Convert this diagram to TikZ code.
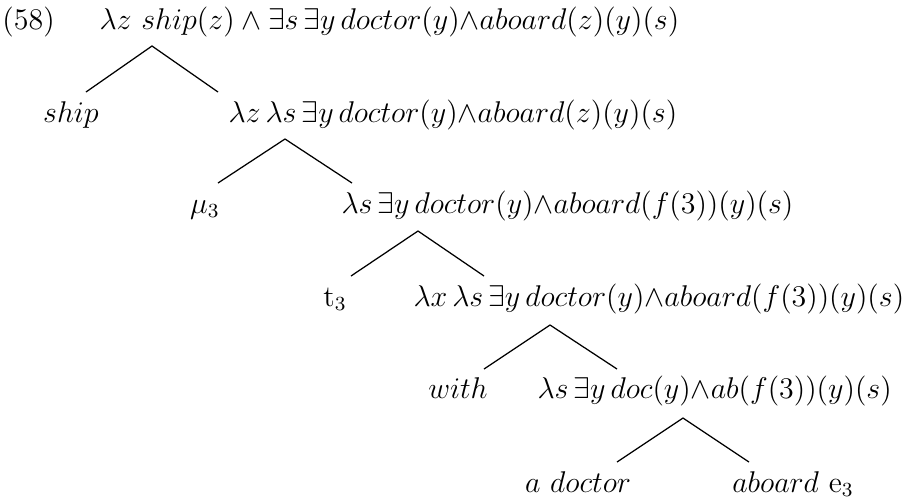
\documentclass[tikz,border=0pt]{standalone}
\usepackage{amsmath, amssymb}
\usepackage{tikz}
\usetikzlibrary{positioning}

\begin{document}
\begin{tikzpicture}[
        x=0.4pt, y=-0.4pt,
        every node/.style={font=\fontsize{12}{14.5}\selectfont},
        lbl/.style={inner sep=0pt, anchor=base west},
        leaf/.style={inner sep=0pt, anchor=base},
        branch/.style={line width=0.5pt}
    ]
    \useasboundingbox (0,0) rectangle (905,502);

    % Root
    \node[lbl] (num) at (2,29) {(58)};
    \node[lbl] (n0) at (99,29) {$\lambda z\ ship(z) \wedge \exists s\,\exists y\, doctor(y){\wedge}aboard(z)(y)(s)$};
    \coordinate (a0) at (152,46);
    \coordinate (l0) at (86,92);
    \coordinate (r0) at (218,92);
    \draw[branch] (l0) -- (a0) -- (r0);

    % Level 1
    \node[leaf] (ship) at (71,122) {$ship$};
    \node[lbl] (n1) at (228,122) {$\lambda z\,\lambda s\,\exists y\, doctor(y){\wedge}aboard(z)(y)(s)$};
    \coordinate (a1) at (285,139);
    \coordinate (l1) at (218,183);
    \coordinate (r1) at (352,183);
    \draw[branch] (l1) -- (a1) -- (r1);

    % Level 2
    \node[leaf] (mu) at (205,213) {$\mu_3$};
    \node[lbl] (n2) at (341,213) {$\lambda s\,\exists y\, doctor(y){\wedge}aboard(f(3))(y)(s)$};
    \coordinate (a2) at (418,231);
    \coordinate (l2) at (351,276);
    \coordinate (r2) at (484,276);
    \draw[branch] (l2) -- (a2) -- (r2);

    % Level 3
    \node[leaf] (trace) at (335,306) {$\mathrm{t}_3$};
    \node[lbl] (n3) at (413,306) {$\lambda x\,\lambda s\,\exists y\, doctor(y){\wedge}aboard(f(3))(y)(s)$};
    \coordinate (a3) at (550,325);
    \coordinate (l3) at (484,369);
    \coordinate (r3) at (617,369);
    \draw[branch] (l3) -- (a3) -- (r3);

    % Level 4
    \node[leaf] (with) at (458,398) {$with$};
    \node[lbl] (n4) at (537,398) {$\lambda s\,\exists y\, doc(y){\wedge}ab(f(3))(y)(s)$};
    \coordinate (a4) at (683,418);
    \coordinate (l4) at (617,462);
    \coordinate (r4) at (749,462);
    \draw[branch] (l4) -- (a4) -- (r4);

    % Level 5
    \node[leaf] (doc) at (578,492) {$a\ doctor$};
    \node[leaf] (aboard) at (793,492) {$aboard\ \mathrm{e}_3$};

    \end{tikzpicture}
\end{document}
